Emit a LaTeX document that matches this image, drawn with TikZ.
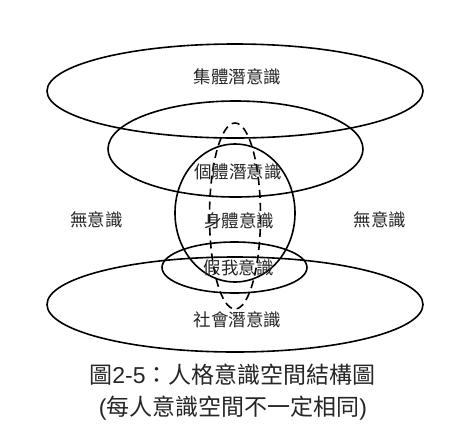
\documentclass[tikz,border=0pt]{standalone}
\usepackage{fontspec}
\setmainfont{Liberation Sans}
\newfontfamily\cjk{Noto Sans CJK TC}
\newfontfamily\latn{Liberation Sans}
\begin{document}
\begin{tikzpicture}[x=1pt,y=-1pt,
  ring/.style={draw=black,line width=1.6pt},
  dring/.style={draw=black,line width=1.6pt,dash pattern=on 8pt off 5pt},
  lbl/.style={font=\cjk\fontsize{17.5}{19}\selectfont,text=black!85,inner sep=0pt},
  captxt/.style={font=\cjk\fontsize{23}{25}\selectfont,text=black!85,inner sep=0pt}]
\useasboundingbox (0,0) rectangle (469,432);
\fill[white] (0,0) rectangle (469,432);
\draw[ring] (235,91) ellipse [x radius=188,y radius=47];
\draw[ring] (235.5,149) ellipse [x radius=127.5,y radius=48];
\draw[ring] (235,213) ellipse [x radius=60,y radius=69];
\draw[ring] (234.5,267.5) ellipse [x radius=72.5,y radius=25.5];
\draw[ring] (235,304.5) ellipse [x radius=188,y radius=47.5];
\draw[dring] (235,216) ellipse [x radius=25.5,y radius=93];
\node[lbl] (collective) at (237.5,77) {集體潛意識};
\node[lbl] (personal) at (238,172) {個體潛意識};
\node[lbl] (leftu) at (96.5,220) {無意識};
\node[lbl] (rightu) at (380,220) {無意識};
\node[lbl] (body) at (239,221) {身體意識};
\node[lbl] (ego) at (238.5,268) {假我意識};
\node[lbl] (social) at (237.5,320) {社會潛意識};
\node[captxt] (cap1) at (232.5,375) {圖{\latn 2-5}：人格意識空間結構圖};
\node[captxt] (cap2) at (233,408) {{\latn (}每人意識空間不一定相同{\latn )}};
\end{tikzpicture}
\end{document}
